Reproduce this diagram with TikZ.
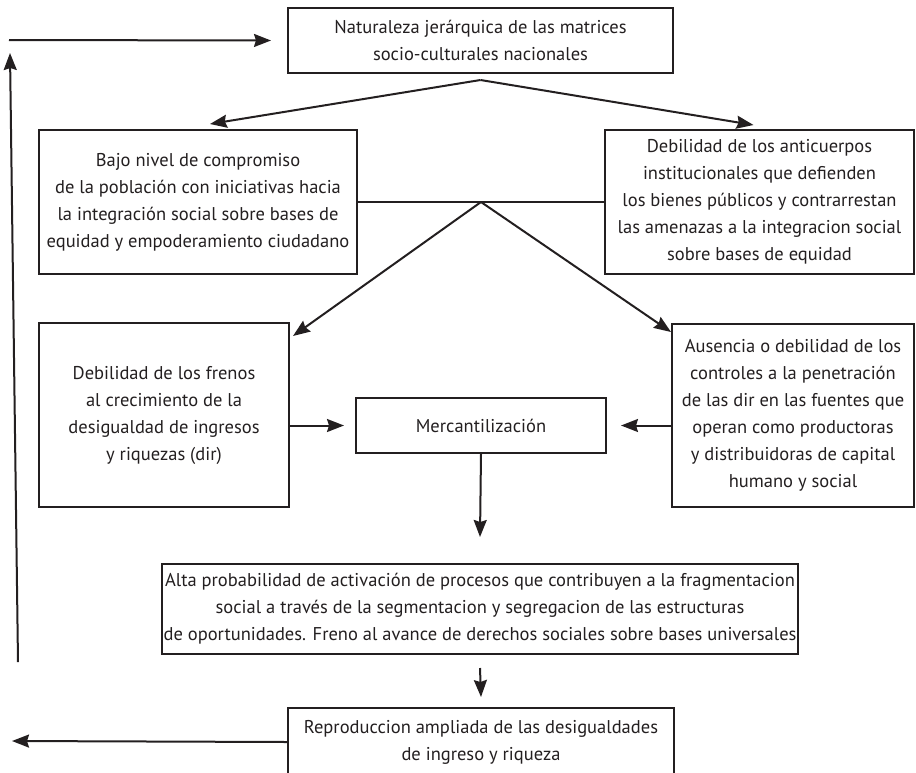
\documentclass[tikz,border=0pt]{standalone}
\usepackage{fontspec}
\setmainfont{PT Sans}
\usetikzlibrary{arrows.meta,calc}
\definecolor{ink}{HTML}{231F20}
\begin{document}
\begin{tikzpicture}[x=1pt,y=-1pt,
  box/.style={draw=ink,line width=2pt,inner sep=0pt,align=center,text=ink,
    font=\fontsize{18.5}{27}\selectfont},
  arr/.style={draw=ink,line width=2pt,-{Stealth[length=17pt,width=13pt,inset=2pt]}},
  ln/.style={draw=ink,line width=2pt}]
\useasboundingbox (0,0) rectangle (916,772);
% boxes
\node[box,minimum width=385pt,minimum height=65pt] (top) at (480.5,40.5)
  {Naturaleza jerárquica de las matrices\\socio-culturales nacionales};
\node[box,minimum width=318pt,minimum height=144pt] (L2) at (198,202)
  {Bajo nivel de compromiso\\de la población con iniciativas hacia\\la integración social sobre bases de\\equidad y empoderamiento ciudadano};
\node[box,minimum width=309pt,minimum height=144pt] (R2) at (759.5,202)
  {Debilidad de los anticuerpos\\institucionales que defienden\\los bienes públicos y contrarrestan\\las amenazas a la integracion social\\sobre bases de equidad};
\node[box,minimum width=250pt,minimum height=184pt] (L3) at (164,415)
  {Debilidad de los frenos\\al crecimiento de la\\desigualdad de ingresos\\y riquezas (dir)};
\node[box,minimum width=242pt,minimum height=183pt] (R3) at (793,415.5)
  {Ausencia o debilidad de los\\controles a la penetración\\de las dir en las fuentes que\\operan como productoras\\y distribuidoras de capital\\humano y social};
\node[box,minimum width=250pt,minimum height=55pt] (Merc) at (481,425.5)
  {Mercantilización};
\node[box,minimum width=636pt,minimum height=90pt] (Big) at (480,609)
  {Alta probabilidad de activación de procesos que contribuyen a la fragmentacion\\social a través de la segmentacion y segregacion de las estructuras\\de oportunidades. Freno al avance de derechos sociales sobre bases universales};
\node[box,minimum width=386pt,minimum height=68pt] (Bot) at (481,742)
  {Reproduccion ampliada de las desigualdades\\de ingreso y riqueza};
% free ends
\coordinate (tl) at (9,40);
\coordinate (lb) at (18,662);
\coordinate (lt) at (10,53);
\coordinate (bl) at (12,741);
\coordinate (apex1) at ([yshift=-6pt]top.south);
\coordinate (apex2) at ($(L2.east)!0.5!(R2.west)$);
% connectors
\draw[arr] (tl) -- ([xshift=-16pt]top.west);
\draw[arr] (lb) -- (lt);
\draw[arr] (apex1) -- ([xshift=12pt,yshift=5pt]L2.north);
\draw[arr] (apex1) -- ([xshift=-6pt,yshift=4pt]R2.north);
\draw[ln] (L2.east) -- (R2.west);
\draw[arr] (apex2) -- ([xshift=3pt,yshift=-14pt]L3.north east);
\draw[arr] (apex2) -- ([yshift=-9pt]R3.north west);
\draw[arr] (L3.east |- Merc.west) -- ([xshift=-11pt]Merc.west);
\draw[arr] (R3.west |- Merc.east) -- ([xshift=14pt]Merc.east);
\draw[arr] (Merc.south) -- ([yshift=26pt]Big.north);
\draw[arr] ([yshift=-13pt]Big.south) -- ([yshift=10pt]Bot.north);
\draw[arr] (Bot.west) -- (bl);
\end{tikzpicture}
\end{document}
